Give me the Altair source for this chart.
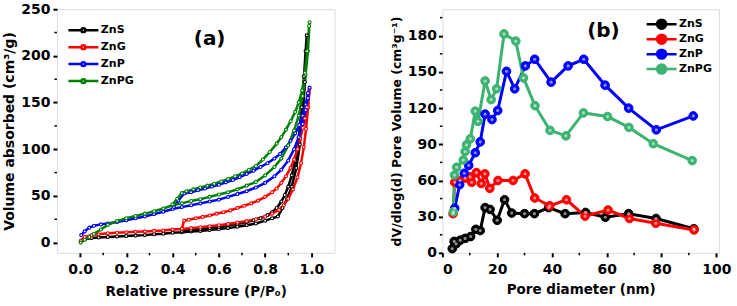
import altair as alt
import pandas as pd

FONT = "DejaVu Sans"
SAMPLES = ["ZnS", "ZnG", "ZnP", "ZnPG"]
COLORS_A = ["#000000", "#ff0000", "#0000ff", "#008000"]
COLORS_B = ["#000000", "#ff0000", "#0000ff", "#3cb371"]

# ---------- (a) N2 adsorption / desorption isotherms ----------
zns_ads_p = [0.003, 0.02, 0.05, 0.08, 0.12, 0.16, 0.20, 0.24, 0.28, 0.32, 0.36, 0.40, 0.44, 0.48, 0.52, 0.56,
             0.60, 0.64, 0.68, 0.72, 0.76, 0.80, 0.83, 0.855, 0.875, 0.895, 0.915, 0.935, 0.95, 0.962, 0.972, 0.98]
zns_ads_v = [1, 3.5, 5, 5.5, 6, 6.5, 7, 7.5, 8, 9, 9.5, 10.5, 11, 12, 12.5, 13.5,
             14.5, 15.5, 17, 18.5, 20.5, 23.5, 26, 28, 37, 47, 60, 80, 105, 135, 172, 222]
zns_des_p = [0.975, 0.968, 0.958, 0.945, 0.93, 0.915, 0.90, 0.885, 0.87, 0.85, 0.83, 0.81, 0.78, 0.75, 0.72,
             0.68, 0.64, 0.60, 0.56, 0.52, 0.48, 0.44]
zns_des_v = [205, 178, 145, 112, 88, 72, 60, 51, 44, 37, 32.5, 29.5, 26, 24, 22,
             20, 18.5, 17, 15.5, 14.5, 13.5, 12.5]

zng_ads_p = [0.003, 0.02, 0.05, 0.08, 0.12, 0.16, 0.20, 0.24, 0.28, 0.32, 0.36, 0.40, 0.44, 0.48, 0.52, 0.56,
             0.60, 0.64, 0.68, 0.72, 0.76, 0.80, 0.83, 0.86, 0.88, 0.90, 0.92, 0.94, 0.955, 0.967, 0.977, 0.986, 0.992]
zng_ads_v = [2, 6, 8, 9, 10, 10.5, 11, 11.5, 12, 12.5, 13, 14, 14.5, 15.5, 16.5, 17.5,
             18.5, 20, 21.5, 23, 25, 28, 31, 35, 40, 47, 57, 70, 85, 102, 122, 145, 165]
zng_des_p = [0.988, 0.98, 0.972, 0.963, 0.952, 0.94, 0.925, 0.91, 0.89, 0.87, 0.85, 0.83, 0.80, 0.77, 0.74,
             0.71, 0.68, 0.65, 0.62, 0.59, 0.56, 0.53, 0.50, 0.47, 0.45, 0.44]
zng_des_v = [160, 145, 133, 123, 112, 100, 89, 80, 71, 64, 58, 54, 49, 45, 42,
             39.5, 37, 34.5, 32.5, 31, 29, 27.5, 26, 24.5, 23.5, 15]

znp_ads_p = [0.005, 0.02, 0.04, 0.06, 0.09, 0.12, 0.16, 0.20, 0.24, 0.28, 0.32, 0.36, 0.40, 0.44, 0.48, 0.52,
             0.56, 0.60, 0.64, 0.68, 0.72, 0.76, 0.80, 0.84, 0.87, 0.90, 0.925, 0.945, 0.962, 0.975, 0.985, 0.992]
znp_ads_v = [8, 12, 16, 18, 19.5, 20.5, 22, 24, 26, 28, 30.5, 33, 36, 38, 40, 42,
             44, 46, 49, 52, 55, 59, 64, 71, 78, 88, 100, 113, 127, 142, 155, 166]
znp_des_p = [0.985, 0.975, 0.962, 0.948, 0.93, 0.91, 0.89, 0.865, 0.84, 0.81, 0.78, 0.75, 0.72, 0.69, 0.66,
             0.63, 0.60, 0.57, 0.54, 0.51, 0.48, 0.45, 0.425, 0.405]
znp_des_v = [160, 148, 136, 126, 117, 109, 102, 95, 90, 85, 81, 77, 73.5, 70, 67,
             64.5, 62, 60, 58, 56, 54, 52.5, 45, 38]

znpg_ads_p = [0.003, 0.02, 0.04, 0.06, 0.09, 0.12, 0.16, 0.20, 0.24, 0.28, 0.32, 0.36, 0.40, 0.44, 0.48, 0.52,
              0.56, 0.60, 0.64, 0.68, 0.72, 0.76, 0.80, 0.84, 0.87, 0.90, 0.925, 0.945, 0.962, 0.975, 0.985, 0.992]
znpg_ads_v = [0, 3, 6, 9.5, 14, 19, 23, 26, 28.5, 31, 33.5, 36.5, 40, 42, 44.5, 46.5,
              49, 51.5, 54, 57, 61, 65, 72, 81, 90, 104, 120, 136, 157, 180, 205, 236]
znpg_des_p = [0.99, 0.982, 0.972, 0.96, 0.945, 0.93, 0.91, 0.89, 0.87, 0.85, 0.82, 0.79, 0.76, 0.73, 0.70,
              0.67, 0.64, 0.61, 0.58, 0.55, 0.52, 0.49, 0.46, 0.44, 0.42, 0.40]
znpg_des_v = [232, 205, 182, 163, 150, 140, 130, 121, 113, 106, 97, 89, 82, 78, 74,
              71, 68, 65.5, 63, 61, 59, 57, 55, 53, 47, 41]

A_XTICKS = [0.0, 0.2, 0.4, 0.6, 0.8, 1.0]
A_XMINOR = [0.1, 0.3, 0.5, 0.7, 0.9]
A_YTICKS = [0, 50, 100, 150, 200, 250]
A_YMINOR = [25, 75, 125, 175, 225]

# ---------- (b) pore size distribution ----------
zns_d = [3.6, 4.3, 5.0, 6.5, 8.3, 10.3, 12.2, 13.8, 15.6, 17.4, 20.0, 22.7, 25.3, 30.0, 33.6, 38.8,
         44.8, 52.3, 59.5, 68.0, 78.0, 91.8]
zns_dv = [3.5, 9.5, 7.5, 10.5, 12, 13.5, 19.5, 18.5, 37.5, 36, 27, 44, 33, 32.5, 32.5, 37.5,
          32.5, 33.5, 29.5, 32.5, 28.5, 20]
zng_d = [3.9, 4.5, 6.4, 8.3, 10.1, 10.7, 12.4, 14.2, 15.5, 17.3, 20.3, 25.8, 30.2, 33.7, 39.2, 45.3,
         52.1, 60.5, 68.3, 77.9, 91.9]
zng_dv = [32.5, 58.5, 60, 62, 63, 58.5, 66.5, 57.5, 65.5, 53.5, 60, 60, 65.5, 45.5, 39, 44,
          30.5, 35.5, 28.5, 24.5, 19]
znp_d = [4.5, 6.3, 8.0, 9.6, 12.0, 13.8, 15.6, 18.1, 20.2, 23.4, 26.4, 30.3, 33.7, 39.7, 45.9, 51.6,
         59.4, 68.0, 78.1, 91.6]
znp_dv = [37, 56.5, 66, 72.5, 83, 92, 115, 110.5, 118, 150.5, 136, 155, 160.5, 141.5, 155, 160.5,
          139, 120, 102, 113.5]
znpg_d = [4.0, 4.4, 5.2, 7.6, 8.3, 8.8, 10.2, 12.0, 13.0, 15.6, 17.8, 19.8, 22.5, 26.8, 29.6, 33.8,
          39.3, 45.1, 51.5, 60.3, 68.1, 77.0, 91.2]
znpg_dv = [34, 64.5, 71, 77, 84, 89.5, 94.5, 117.5, 109, 142.5, 127, 136, 181.5, 175.5, 145, 122,
           101.5, 97, 116, 113, 104, 90.5, 76.5]

B_XTICKS = [0, 20, 40, 60, 80, 100]
B_XMINOR = [10, 30, 50, 70, 90]
B_YTICKS = [0, 30, 60, 90, 120, 150, 180]
B_YMINOR = [15, 45, 75, 105, 135, 165, 195]

# ---------- tables ----------
iso_rows = []
for name, ap, av, dp, dv in [
    ("ZnS", zns_ads_p, zns_ads_v, zns_des_p, zns_des_v),
    ("ZnG", zng_ads_p, zng_ads_v, zng_des_p, zng_des_v),
    ("ZnP", znp_ads_p, znp_ads_v, znp_des_p, znp_des_v),
    ("ZnPG", znpg_ads_p, znpg_ads_v, znpg_des_p, znpg_des_v),
]:
    for i, (p, v) in enumerate(zip(ap + dp, av + dv)):
        iso_rows.append({"sample": name, "p": p, "v": v, "idx": i})
iso = pd.DataFrame(iso_rows)

psd_rows = []
for name, ds, vs in [("ZnS", zns_d, zns_dv), ("ZnG", zng_d, zng_dv),
                     ("ZnP", znp_d, znp_dv), ("ZnPG", znpg_d, znpg_dv)]:
    for i, (d, v) in enumerate(zip(ds, vs)):
        psd_rows.append({"sample": name, "d": d, "v": v, "idx": i})
psd = pd.DataFrame(psd_rows)

W_A, W_B, H = 278, 277, 244

axis_style = dict(labelFont=FONT, labelFontSize=14, labelFontWeight="bold", labelColor="black",
                  titleFont=FONT, titleFontWeight="bold", titleColor="black",
                  tickColor="black", tickWidth=2, tickSize=4, domain=False, grid=False)


def legend(x, y, path, row_pad):
    return alt.Legend(title=None, orient="none", legendX=x, legendY=y, symbolType=path,
                      symbolSize=900, symbolStrokeWidth=2.5, labelFont=FONT, labelFontSize=11,
                      labelFontWeight="bold", labelColor="black", labelOffset=1,
                      clipHeight=12, rowPadding=row_pad, padding=0)


PATH_A = "M-1,0L-0.13,0M0.13,0L1,0M-0.13,0A0.13,0.13 0 1 1 0.13,0A0.13,0.13 0 1 1 -0.13,0"
PATH_B = "M-1,0L1,0M-0.3,0A0.3,0.3 0 1 1 0.3,0A0.3,0.3 0 1 1 -0.3,0"

# ---------- panel (a) ----------
xa = alt.X("p:Q", scale=alt.Scale(domain=[-0.1, 1.1], nice=False, zero=False),
           axis=alt.Axis(values=A_XTICKS, format=".1f", title="Relative pressure (P/P₀)",
                         titleFontSize=13.5, labelPadding=6, titlePadding=8, **axis_style))
ya = alt.Y("v:Q", scale=alt.Scale(domain=[-11, 250], nice=False, zero=False),
           axis=alt.Axis(values=A_YTICKS, title="Volume absorbed (cm³/g)",
                         titleFontSize=14, labelPadding=3, titlePadding=4, **axis_style))
stroke_a = alt.Stroke("sample:N", scale=alt.Scale(domain=SAMPLES, range=COLORS_A),
                      legend=legend(10, 15, PATH_A, 5))

base_a = alt.Chart(iso)
line_a = base_a.mark_line(strokeWidth=2.5).encode(x=xa, y=ya, stroke=stroke_a, order="idx:Q")
pts_a = base_a.mark_point(filled=False, fill="white", size=9, strokeWidth=1.1, opacity=1).encode(
    x=xa, y=ya, stroke=stroke_a)
yminor_a = alt.Chart(pd.DataFrame({"v": A_YMINOR})).mark_rule(color="black", strokeWidth=1.5).encode(
    y=ya, x=alt.value(-2.5), x2=alt.value(0))
xminor_a = alt.Chart(pd.DataFrame({"p": A_XMINOR})).mark_rule(color="black", strokeWidth=1.5).encode(
    x=xa, y=alt.value(H), y2=alt.value(H + 2.5))
label_a = alt.Chart(pd.DataFrame({"p": [0.56], "v": [218], "t": ["(a)"]})).mark_text(
    font=FONT, fontSize=20, fontWeight="bold", color="black").encode(x=xa, y=ya, text="t:N")

panel_a = alt.layer(line_a, pts_a, yminor_a, xminor_a, label_a).properties(width=W_A, height=H)

# ---------- panel (b) ----------
xb = alt.X("d:Q", scale=alt.Scale(domain=[0, 101], nice=False, zero=False),
           axis=alt.Axis(values=B_XTICKS, title="Pore diameter (nm)",
                         titleFontSize=13.5, labelPadding=6, titlePadding=6, **axis_style))
yb = alt.Y("v:Q", scale=alt.Scale(domain=[0, 202], nice=False, zero=False),
           axis=alt.Axis(values=B_YTICKS, title="dV/dlog(d) Pore Volume (cm³g⁻¹)",
                         titleFontSize=12.5, labelPadding=2, titlePadding=4, **axis_style))
stroke_b = alt.Stroke("sample:N", scale=alt.Scale(domain=SAMPLES, range=COLORS_B),
                      legend=legend(203, 9, PATH_B, 3))
fill_b = alt.Fill("sample:N", scale=alt.Scale(domain=SAMPLES, range=COLORS_B),
                  legend=legend(203, 9, PATH_B, 3))

base_b = alt.Chart(psd)
line_b = base_b.mark_line(strokeWidth=3).encode(x=xb, y=yb, stroke=stroke_b, order="idx:Q")
pts_b = base_b.mark_point(filled=True, size=75, strokeWidth=1, opacity=1).encode(
    x=xb, y=yb, fill=fill_b, stroke=stroke_b)
shine_b = base_b.mark_point(filled=True, size=10, color="white", opacity=0.55).encode(x=xb, y=yb)
yminor_b = alt.Chart(pd.DataFrame({"v": B_YMINOR})).mark_rule(color="black", strokeWidth=1.5).encode(
    y=yb, x=alt.value(-2.5), x2=alt.value(0))
xminor_b = alt.Chart(pd.DataFrame({"d": B_XMINOR})).mark_rule(color="black", strokeWidth=1.5).encode(
    x=xb, y=alt.value(H), y2=alt.value(H + 2.5))
label_b = alt.Chart(pd.DataFrame({"d": [58.8], "v": [184], "t": ["(b)"]})).mark_text(
    font=FONT, fontSize=20, fontWeight="bold", color="black").encode(x=xb, y=yb, text="t:N")

panel_b = alt.layer(line_b, pts_b, shine_b, yminor_b, xminor_b, label_b).properties(width=W_B, height=H)

chart = (
    alt.hconcat(panel_a, panel_b, spacing=108, bounds="flush",
                padding={"left": 2, "top": 1, "right": 5, "bottom": 0})
    .resolve_scale(stroke="independent", fill="independent")
    .resolve_legend(stroke="independent", fill="independent")
    .configure_view(stroke="black", strokeWidth=2)
    .configure(background="white")
)

chart.save("out.html", embed_options={"renderer": "svg", "actions": False})
